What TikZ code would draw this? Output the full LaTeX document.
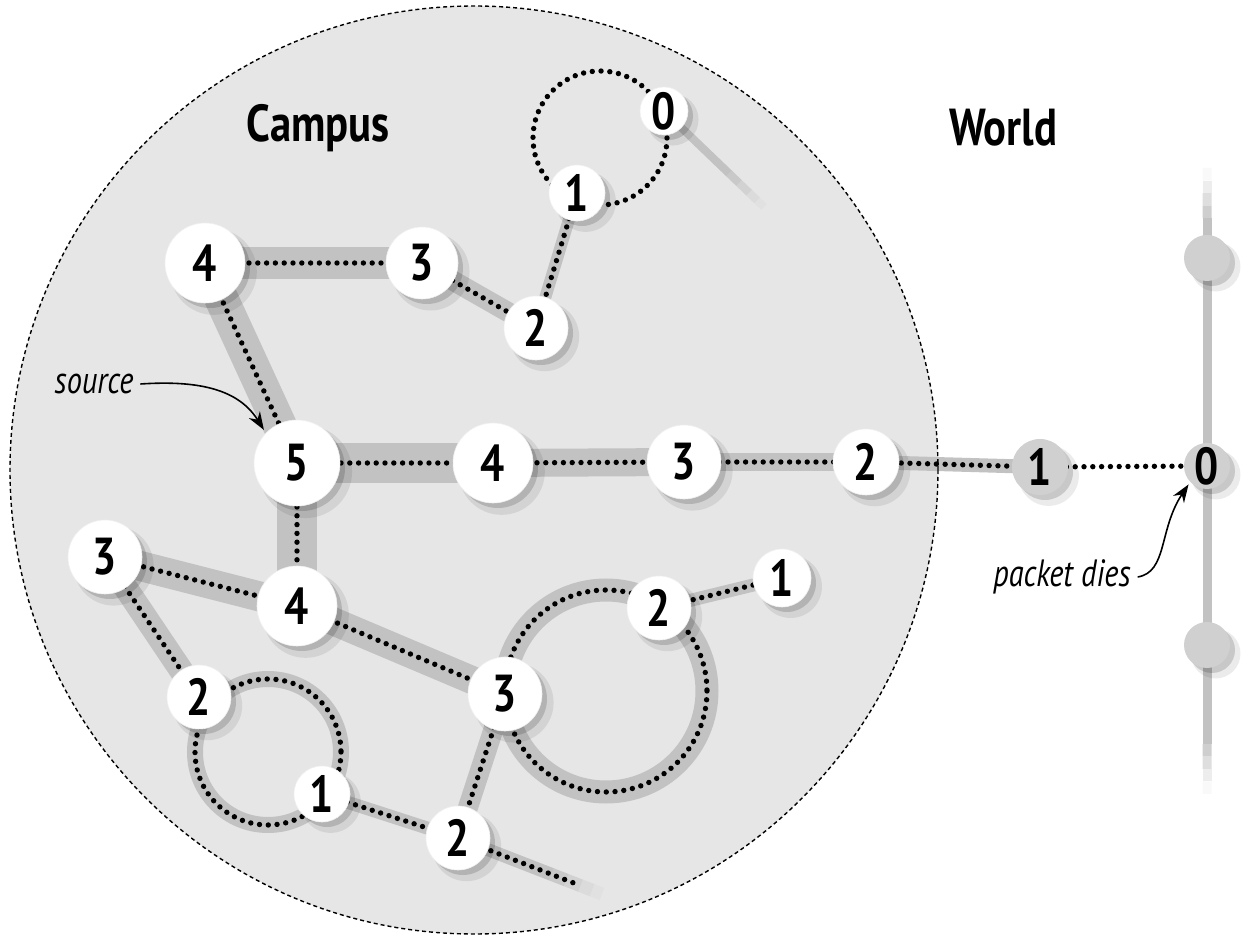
\documentclass[tikz,border=0pt]{standalone}
\usepackage{fontspec}
\usepackage{graphicx}
\setmainfont{PT Sans}
\usetikzlibrary{shadows,calc,arrows.meta}
\definecolor{campusgray}{HTML}{E6E6E6}
\definecolor{bandgray}{HTML}{C2C2C2}
\definecolor{nodegray}{HTML}{D0D0D0}
\pgfdeclarelayer{bg}
\pgfsetlayers{bg,main}
\newcommand{\dg}[1]{\scalebox{0.82}[1]{#1}}
\tikzset{
  sh/.style={drop shadow={shadow xshift=4pt, shadow yshift=-4pt, opacity=0.08, fill=black, shadow scale=1.08},
             drop shadow={shadow xshift=2.5pt, shadow yshift=-2.5pt, opacity=0.15, fill=black}},
  num/.style={circle, fill=white, draw=black!6, line width=0.3pt, minimum size=#1, inner sep=0pt,
              font=\fontsize{26}{26}\selectfont\bfseries, sh},
  gnum/.style={num=#1, fill=nodegray, draw=none},
  ball/.style={circle, fill=nodegray, minimum size=#1, inner sep=0pt, sh},
  bandline/.style={draw=bandgray, line width=#1},
  dotline/.style={line width=2.7pt, dash pattern=on 0pt off 4.4pt, line cap=round},
  title/.style={font=\fontsize{26}{26}\selectfont\bfseries},
  note/.style={font=\fontsize{19}{19}\selectfont\itshape},
  pointer/.style={-{Stealth[length=9pt,width=6.5pt]}, line width=0.8pt}
}
\begin{document}
\begin{tikzpicture}[x=0.5pt,y=-0.5pt]
\useasboundingbox (0,0) rectangle (1250,941);

% tail end coordinates
\coordinate (t0end) at (764,207);
\coordinate (b2end) at (602,894);
\coordinate (vtop) at (1207,168);
\coordinate (vbot) at (1207,794);

% campus nodes
\node[num=24pt] (t0) at (664,111) {\dg{0}};
\node[num=28pt] (t1) at (577,193) {\dg{1}};
\node[num=32pt] (t2) at (536,328) {\dg{2}};
\node[num=36pt] (t3) at (422,263) {\dg{3}};
\node[num=40pt] (t4) at (205,263) {\dg{4}};
\node[num=43pt] (s5) at (297,463) {\dg{5}};
\node[num=40pt] (m4) at (493,463) {\dg{4}};
\node[num=37pt] (m3) at (684,462) {\dg{3}};
\node[num=33pt] (m2) at (866,462) {\dg{2}};
\node[gnum=28pt] (w1) at (1040,467) {\dg{1}};
\node[gnum=23pt] (w0) at (1207,466) {\dg{0}};
\node[num=37pt] (l3) at (105,557) {\dg{3}};
\node[num=40pt] (l4) at (297,606) {\dg{4}};
\node[num=37pt] (c3) at (505,694) {\dg{3}};
\node[num=32pt] (l2) at (199,697) {\dg{2}};
\node[num=28pt] (b1) at (322,794) {\dg{1}};
\node[num=32pt] (b2) at (458,838) {\dg{2}};
\node[num=32pt] (r2) at (659,608) {\dg{2}};
\node[num=29pt] (r1) at (782,578) {\dg{1}};
\node[ball=23pt] (ba) at (1207,258) {};
\node[ball=23pt] (bb) at (1207,645) {};

% labels
\node[title] (campus) at (318,128) {\scalebox{0.82}[1]{Campus}};
\node[title] (world) at (1003,128) {\scalebox{0.82}[1]{World}};
\node[note] (src) at (94,384) {\scalebox{0.8}[1]{source}};
\node[note] (dies) at (1062,577) {\scalebox{0.8}[1]{packet dies}};

\draw[pointer] (src.east) .. controls +(60,-4) and +(-25,-40) .. ($(s5.center)!1.08!(s5.north west)$);
\draw[pointer] (dies.east) .. controls +(30,-5) and +(-30,45) .. ($(w0.center)!1.12!(w0.south west)$);

\begin{pgfonlayer}{bg}
  \fill[campusgray] (474,470) circle[radius=464];
  % loops (bands)
  \draw[bandline=11.5pt] (606,691) circle[radius=101];
  \draw[bandline=8pt] (268,752) circle[radius=73];
  % bands
  \draw[bandline=16pt] (t4.center) -- (t3.center);
  \draw[bandline=10pt] (t3.center) -- (t2.center);
  \draw[bandline=6pt] (t2.center) -- (t1.center);
  \draw[bandline=17pt] (t4.center) -- (s5.center);
  \draw[bandline=20pt] (s5.center) -- (m4.center);
  \draw[bandline=14pt] (m4.center) -- (m3.center);
  \draw[bandline=9pt] (m3.center) -- (m2.center);
  \draw[bandline=7pt] (m2.center) -- (w1.center);
  \draw[bandline=20pt] (s5.center) -- (l4.center);
  \draw[bandline=15pt] (l4.center) -- (l3.center);
  \draw[bandline=14pt] (l4.center) -- (c3.center);
  \draw[bandline=12pt] (l3.center) -- (l2.center);
  \draw[bandline=6.5pt] (b1.center) -- (b2.center);
  \draw[bandline=10pt] (c3.center) -- (b2.center);
  \draw[bandline=6.5pt] (r2.center) -- (r1.center);
  % fading tails
  \foreach \s/\e/\o in {0/0.65/1, 0.65/0.75/0.8, 0.75/0.85/0.55, 0.85/0.93/0.3, 0.93/1/0.12}{
    \draw[bandline=4pt, opacity=\o] ($(t0.center)!\s!(t0end)$) -- ($(t0.center)!\e!(t0end)$);
    \draw[bandline=6.5pt, opacity=\o] ($(b2.center)!\s!(b2end)$) -- ($(b2.center)!\e!(b2end)$);
  }
  \foreach \s/\e/\o in {0/0.02/0.1, 0.02/0.04/0.3, 0.04/0.06/0.55, 0.06/0.08/0.8, 0.08/0.92/1, 0.92/0.94/0.8, 0.94/0.96/0.55, 0.96/0.98/0.3, 0.98/1/0.1}{
    \draw[bandline=4.5pt, opacity=\o] ($(vtop)!\s!(vbot)$) -- ($(vtop)!\e!(vbot)$);
  }
  % campus border
  \draw[line width=0.7pt, dash pattern=on 2pt off 1.5pt] (474,470) circle[radius=464];
  % dotted paths
  \draw[dotline] (600,138) circle[radius=67];
  \draw[dotline] (606,691) circle[radius=101];
  \draw[dotline] (268,752) circle[radius=73];
  \draw[dotline] (t4.center) -- (t3.center);
  \draw[dotline] (t3.center) -- (t2.center);
  \draw[dotline] (t2.center) -- (t1.center);
  \draw[dotline] (t4.center) -- (s5.center);
  \draw[dotline] (s5.center) -- (m4.center);
  \draw[dotline] (m4.center) -- (m3.center);
  \draw[dotline] (m3.center) -- (m2.center);
  \draw[dotline] (m2.center) -- (w1.center);
  \draw[dotline] (w1.center) -- (w0.center);
  \draw[dotline] (s5.center) -- (l4.center);
  \draw[dotline] (l4.center) -- (l3.center);
  \draw[dotline] (l4.center) -- (c3.center);
  \draw[dotline] (l3.center) -- (l2.center);
  \draw[dotline] (b1.center) -- (b2.center);
  \draw[dotline] (c3.center) -- (b2.center);
  \draw[dotline] (r2.center) -- (r1.center);
  \draw[dotline] (b2.center) -- ($(b2.center)!0.83!(b2end)$);
\end{pgfonlayer}
\end{tikzpicture}
\end{document}
